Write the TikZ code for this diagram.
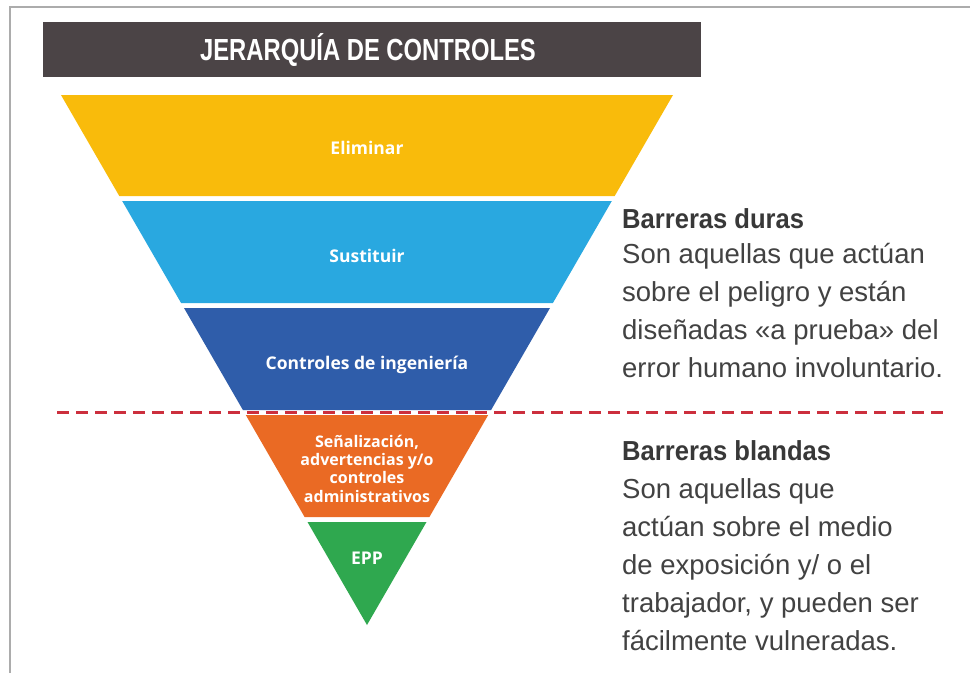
\documentclass[tikz,border=0pt]{standalone}
\usepackage{fontspec}
\setmainfont{Liberation Sans}
\newfontfamily\pyrfont{Open Sans}
\newfontfamily\titlefont[FakeStretch=0.78]{Liberation Sans}
\newfontfamily\headfont[FakeStretch=0.93]{Liberation Sans}
\definecolor{cYellow}{HTML}{F9BB0B}
\definecolor{cLBlue}{HTML}{29A8E0}
\definecolor{cDBlue}{HTML}{2F5DAA}
\definecolor{cOrange}{HTML}{EA6A24}
\definecolor{cGreen}{HTML}{2FA84F}
\definecolor{cBar}{HTML}{4B4446}
\definecolor{cText}{HTML}{424242}
\definecolor{cRed}{HTML}{CC2F3D}
\definecolor{cFrame}{HTML}{ACACAC}
\begin{document}
\begin{tikzpicture}[x=1pt,y=-1pt,
  pyr/.style={text=white,inner sep=0pt,anchor=base,font=\pyrfont\bfseries\fontsize{17.5}{18}\selectfont},
  pyrsmall/.style={pyr,font=\pyrfont\bfseries\fontsize{16}{17}\selectfont},
  body/.style={text=cText,inner sep=0pt,anchor=base west,font=\fontsize{27.5}{30}\selectfont},
  head/.style={body,text=black!78,font=\headfont\bfseries\fontsize{27.5}{30}\selectfont}]
\useasboundingbox (0,0) rectangle (970,673);
\fill[white] (0,0) rectangle (970,673);
% frame
\coordinate (ftl) at (10,7);
\coordinate (ftr) at (970,7);
\coordinate (fbl) at (10,673);
\draw[cFrame,line width=2pt] (fbl) -- (ftl) -- (ftr);
% title bar
\fill[cBar] (43,22) rectangle (701,77);
\node[text=white,inner sep=0pt,anchor=base,font=\titlefont\bfseries\fontsize{30.5}{32}\selectfont] (title) at (368,60) {JERARQUÍA DE CONTROLES};
% pyramid bands
\fill[cYellow] (61,95) -- (673,95) -- (614.7,196) -- (119.3,196) -- cycle;
\fill[cLBlue] (122.2,201) -- (611.8,201) -- (552.9,303) -- (181.1,303) -- cycle;
\fill[cDBlue] (184,308) -- (550,308) -- (491.1,410) -- (242.9,410) -- cycle;
\fill[cOrange] (245.8,415) -- (488.2,415) -- (429.4,517) -- (304.6,517) -- cycle;
\fill[cGreen] (307.5,522) -- (426.5,522) -- (367,625) -- cycle;
% pyramid labels
\node[pyr] (eliminar) at (367,154.5) {Eliminar};
\node[pyr] (sustituir) at (367,262) {Sustituir};
\node[pyr] (ingenieria) at (367,369) {Controles de ingeniería};
\node[pyrsmall] (o1) at (367,447) {Señalización,};
\node[pyrsmall] (o2) at (367,465) {advertencias y/o};
\node[pyrsmall] (o3) at (367,483.5) {controles};
\node[pyrsmall] (o4) at (367,502) {administrativos};
\node[pyr] (epp) at (367,564) {EPP};
% dashed separator
\coordinate (dl) at (57,412);
\coordinate (dr) at (948,412);
\draw[cRed,line width=3pt,dash pattern=on 12pt off 7pt] (dl) -- (dr);
% hard barriers text
\node[head] (h1) at (622,228.5) {Barreras duras};
\node[body] (a1) at (622,263.5) {Son aquellas que actúan};
\node[body] (a2) at (622,301) {sobre el peligro y están};
\node[body] (a3) at (622,339) {diseñadas «a prueba» del};
\node[body] (a4) at (622,377) {error humano involuntario.};
% soft barriers text
\node[head] (h2) at (622,460) {Barreras blandas};
\node[body] (b1) at (622,498) {Son aquellas que};
\node[body] (b2) at (622,536) {actúan sobre el medio};
\node[body] (b3) at (622,574) {de exposición y/ o el};
\node[body] (b4) at (622,612) {trabajador, y pueden ser};
\node[body] (b5) at (622,650) {fácilmente vulneradas.};
\end{tikzpicture}
\end{document}
